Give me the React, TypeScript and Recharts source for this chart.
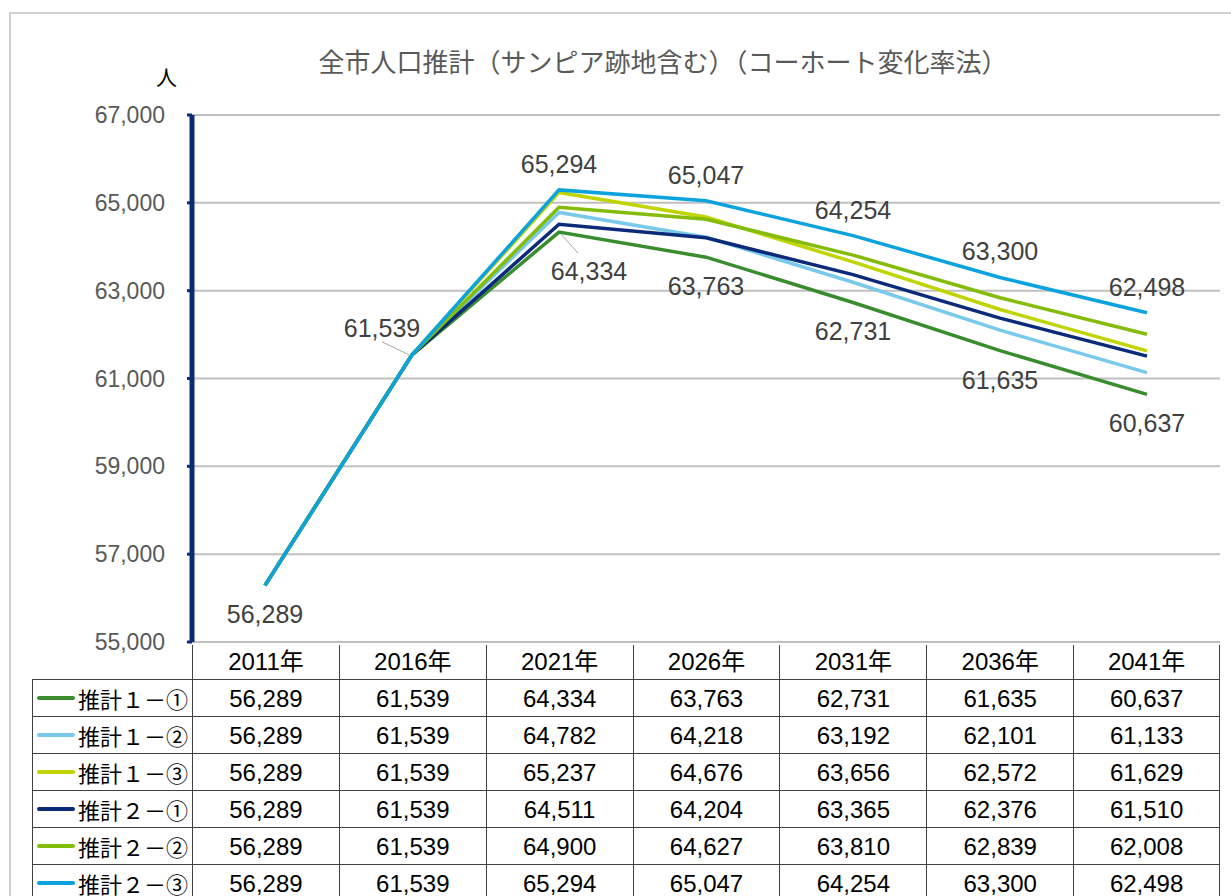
import React from 'react';
import { LineChart, Line, XAxis, YAxis, CartesianGrid } from 'recharts';

// 年次
const years = ['2011年', '2016年', '2021年', '2026年', '2031年', '2036年', '2041年'];

// 推計値（人）
const est1a = [56289, 61539, 64334, 63763, 62731, 61635, 60637];
const est1b = [56289, 61539, 64782, 64218, 63192, 62101, 61133];
const est1c = [56289, 61539, 65237, 64676, 63656, 62572, 61629];
const est2a = [56289, 61539, 64511, 64204, 63365, 62376, 61510];
const est2b = [56289, 61539, 64900, 64627, 63810, 62839, 62008];
const est2c = [56289, 61539, 65294, 65047, 64254, 63300, 62498];

const yTicks = [55000, 57000, 59000, 61000, 63000, 65000, 67000];

const series = [
  { key: 'est1a', name: '推計１－①', values: est1a, color: '#3a8d2e' },
  { key: 'est1b', name: '推計１－②', values: est1b, color: '#78c9ea' },
  { key: 'est1c', name: '推計１－③', values: est1c, color: '#c0d400' },
  { key: 'est2a', name: '推計２－①', values: est2a, color: '#0c2a7a' },
  { key: 'est2b', name: '推計２－②', values: est2b, color: '#84bc0a' },
  { key: 'est2c', name: '推計２－③', values: est2c, color: '#0ba3de' },
];

const data = years.map((year, i) => {
  const row: Record<string, string | number> = { year };
  series.forEach((s) => (row[s.key] = s.values[i]));
  return row;
});

const fmt = (v: number) => v.toLocaleString('en-US');
const NUM_FONT = '"Liberation Sans", Arial, "Noto Sans CJK JP", sans-serif';
const JP_FONT = '"Noto Sans CJK JP", "Liberation Sans", sans-serif';
const LABEL_COLOR = '#404040';
const LABEL_SIZE = 25;

// 推計２－③ のラベル（上側、2016年は左上に引き出し線付き）
const topLabel = (props: any) => {
  const { x, y, value, index } = props;
  const common = { fontSize: LABEL_SIZE, fill: LABEL_COLOR, fontFamily: NUM_FONT, textAnchor: 'middle' as const, dominantBaseline: 'central' as const };
  if (index === 0) {
    return <text key={`t${index}`} x={x} y={y + 29} {...common}>{fmt(value)}</text>;
  }
  if (index === 1) {
    return (
      <g key={`t${index}`}>
        <line x1={x - 30} y1={y - 13} x2={x - 3} y2={y} stroke="#a6a6a6" strokeWidth={1} />
        <text x={x - 30} y={y - 27} {...common}>{fmt(value)}</text>
      </g>
    );
  }
  return <text key={`t${index}`} x={x} y={y - 26} {...common}>{fmt(value)}</text>;
};

// 推計１－① のラベル（下側、2021年は右下に引き出し線付き）
const bottomLabel = (props: any) => {
  const { x, y, value, index } = props;
  if (index < 2) return null;
  const common = { fontSize: LABEL_SIZE, fill: LABEL_COLOR, fontFamily: NUM_FONT, textAnchor: 'middle' as const, dominantBaseline: 'central' as const };
  if (index === 2) {
    return (
      <g key={`b${index}`}>
        <line x1={x + 2} y1={y + 2} x2={x + 19} y2={y + 21} stroke="#a6a6a6" strokeWidth={1} />
        <text x={x + 30} y={y + 39} {...common}>{fmt(value)}</text>
      </g>
    );
  }
  return <text key={`b${index}`} x={x} y={y + 29} {...common}>{fmt(value)}</text>;
};

const COL_W = 146.86;
const ROW_H = 37;

export default function App() {
  return (
    <div style={{ position: 'absolute', left: 0, top: 0, width: 1231, height: 896, overflow: 'hidden', background: '#fff' }}>
      {/* 外枠 */}
      <div style={{ position: 'absolute', left: 9, top: 12, width: 1260, height: 920, border: '2px solid #d0d0d0' }} />

      <div style={{ position: 'absolute', left: 0, top: 43, width: 1326, textAlign: 'center', fontFamily: JP_FONT, fontSize: 26, color: '#595959', lineHeight: '36px' }}>
        全市人口推計（サンピア跡地含む）（コーホート変化率法）
      </div>
      <div style={{ position: 'absolute', left: 156, top: 62, fontFamily: JP_FONT, fontSize: 21, color: '#000', lineHeight: '28px' }}>人</div>

      <div style={{ position: 'absolute', left: 0, top: 0 }}>
        <LineChart width={1231} height={670} data={data} margin={{ top: 115, right: 11, left: 0, bottom: 28 }}>
          <CartesianGrid vertical={false} stroke="#c0c0c0" strokeWidth={2} />
          <XAxis
            dataKey="year"
            height={0}
            padding={{ left: 73, right: 73 }}
            tick={false}
            tickLine={false}
            axisLine={{ stroke: '#000', strokeWidth: 5 }}
          />
          <YAxis
            width={192}
            domain={[55000, 67000]}
            ticks={yTicks}
            interval={0}
            tickFormatter={fmt}
            tickSize={5}
            tickMargin={22}
            tickLine={{ stroke: '#0c2a7a', strokeWidth: 3 }}
            axisLine={{ stroke: '#0c2a7a', strokeWidth: 5 }}
            tick={{ fontSize: 23, fill: '#595959', fontFamily: NUM_FONT }}
          />
          {series.map((s) => (
            <Line
              key={s.key}
              dataKey={s.key}
              name={s.name}
              stroke={s.color}
              strokeWidth={3.5}
              dot={false}
              activeDot={false}
              isAnimationActive={false}
              label={s.key === 'est2c' ? topLabel : s.key === 'est1a' ? bottomLabel : undefined}
            />
          ))}
        </LineChart>
      </div>

      {/* データ表 */}
      <div style={{ position: 'absolute', left: 0, top: 0, fontFamily: NUM_FONT, fontSize: 24, color: '#000' }}>
        {years.map((y, i) => (
          <div
            key={y}
            style={{
              position: 'absolute',
              left: 192 + i * COL_W,
              top: 645,
              width: COL_W,
              height: 34,
              lineHeight: '34px',
              textAlign: 'center',
              borderLeft: '1px solid #404040',
              borderRight: i === years.length - 1 ? '1px solid #404040' : undefined,
              boxSizing: 'border-box',
            }}
          >
            {y}
          </div>
        ))}
        {series.map((s, r) => (
          <React.Fragment key={s.key}>
            <div
              style={{
                position: 'absolute',
                left: 32,
                top: 679 + r * ROW_H,
                width: 160,
                height: ROW_H,
                borderLeft: '1px solid #404040',
                borderTop: '1px solid #404040',
                boxSizing: 'border-box',
                display: 'flex',
                alignItems: 'center',
                fontFamily: JP_FONT,
                fontSize: 22,
              }}
            >
              <span style={{ display: 'inline-block', width: 38, height: 4, background: s.color, marginLeft: 4, marginRight: 3, borderRadius: 2 }} />
              <span>{s.name}</span>
            </div>
            {s.values.map((v, i) => (
              <div
                key={i}
                style={{
                  position: 'absolute',
                  left: 192 + i * COL_W,
                  top: 679 + r * ROW_H,
                  width: COL_W,
                  height: ROW_H,
                  lineHeight: `${ROW_H}px`,
                  textAlign: 'center',
                  borderLeft: '1px solid #404040',
                  borderTop: '1px solid #404040',
                  borderRight: i === years.length - 1 ? '1px solid #404040' : undefined,
                  boxSizing: 'border-box',
                }}
              >
                {fmt(v)}
              </div>
            ))}
          </React.Fragment>
        ))}
      </div>
    </div>
  );
}
